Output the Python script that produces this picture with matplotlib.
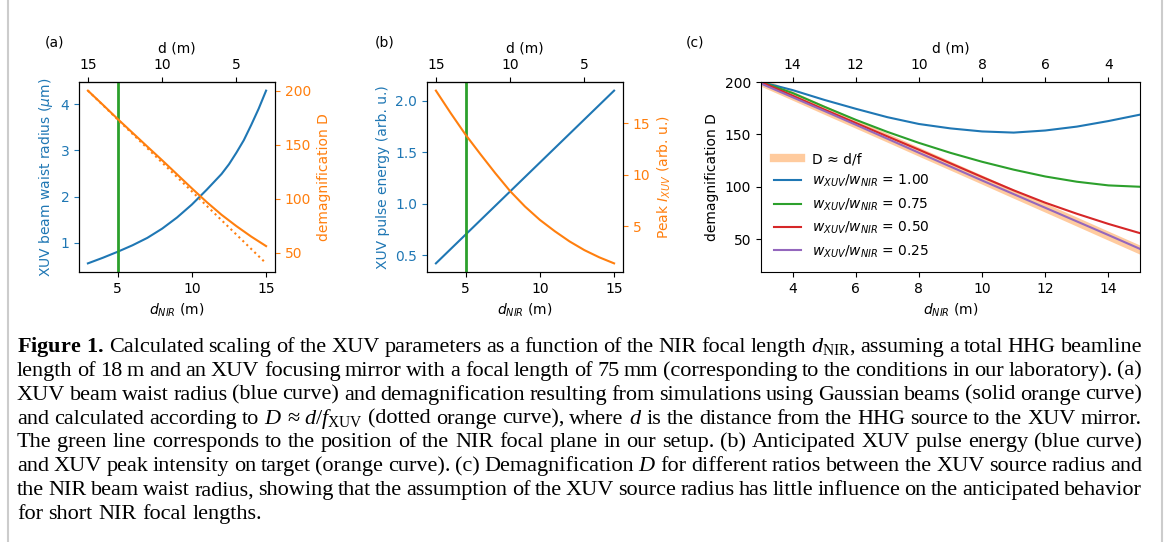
import matplotlib
matplotlib.use("Agg")
import matplotlib.pyplot as plt
from matplotlib.lines import Line2D

# NIR focal length grid (m) and total beamline length (m)
d_nir = [3, 4, 5, 6, 7, 8, 9, 10, 11, 12, 13, 14, 15]
beamline = 18
nir_focus = 5

# (a) XUV beam waist radius (um) and demagnification
waist_x = [3, 4, 5, 6, 7, 8, 9, 10, 11, 12, 12.5, 13, 13.5, 14, 14.5, 15]
waist = [0.56, 0.68, 0.81, 0.95, 1.11, 1.31, 1.55, 1.83, 2.15, 2.49, 2.70, 2.95, 3.22, 3.55, 3.90, 4.29]
D_approx = [200, 186.7, 173.3, 160, 146.7, 133.3, 120, 106.7, 93.3, 80, 66.7, 53.3, 40]

# (b) XUV pulse energy and peak intensity (arb. u.)
energy = [0.42, 0.56, 0.70, 0.84, 0.98, 1.12, 1.26, 1.40, 1.54, 1.68, 1.82, 1.96, 2.10]
peak = [18.2, 16.0, 13.9, 12.0, 10.15, 8.4, 6.9, 5.6, 4.5, 3.5, 2.65, 1.95, 1.36]

# (c) demagnification for different w_XUV / w_NIR
D_w100 = [200, 192.3, 183, 174.5, 166.5, 160, 155.8, 152.9, 151.8, 153.8, 157.5, 162.8, 168.9]
D_w075 = [200, 189.5, 176.5, 164, 152.5, 142, 132.5, 124, 116.5, 110, 105, 101.5, 100.2]
D_w050 = [200, 187, 173.8, 161, 148.2, 135.5, 122.5, 109.5, 96.8, 85, 74.5, 64.8, 56]
D_w025 = [198.5, 185.5, 172.5, 159.3, 146, 132.6, 119.4, 106.2, 93.2, 80.2, 67.2, 54.2, 41]
ratios = ["1.00", "0.75", "0.50", "0.25"]

caption = [
    r"$\mathbf{Figure}$ $\mathbf{1.}$ Calculated scaling of the XUV parameters as a function of the NIR focal length $d_{\mathrm{NIR}}$, assuming a total HHG beamline",
    "length of 18 m and an XUV focusing mirror with a focal length of 75 mm (corresponding to the conditions in our laboratory). (a)",
    "XUV beam waist radius (blue curve) and demagnification resulting from simulations using Gaussian beams (solid orange curve)",
    r"and calculated according to $D$ ≈ $d/f_{\mathrm{XUV}}$ (dotted orange curve), where $d$ is the distance from the HHG source to the XUV mirror.",
    "The green line corresponds to the position of the NIR focal plane in our setup. (b) Anticipated XUV pulse energy (blue curve)",
    r"and XUV peak intensity on target (orange curve). (c) Demagnification $D$ for different ratios between the XUV source radius and",
    "the NIR beam waist radius, showing that the assumption of the XUV source radius has little influence on the anticipated behavior",
    "for short NIR focal lengths.",
]

plt.rcParams['font.size'] = 10
plt.rcParams['mathtext.rm'] = 'Liberation Serif'
plt.rcParams['mathtext.it'] = 'Liberation Serif:italic'
plt.rcParams['mathtext.bf'] = 'Liberation Serif:bold'

blue, orange, green, red, purple = '#1f77b4', '#ff7f0e', '#2ca02c', '#d62728', '#9467bd'

W, H = 1166, 542
fig = plt.figure(figsize=(W / 100, H / 100), dpi=100)

def box(x0, x1):
    return [x0 / W, 1 - 272 / H, (x1 - x0) / W, 190 / H]

to_d = (lambda x: beamline - x, lambda x: beamline - x)

# ---- panel (a)
ax = fig.add_axes(box(79, 275))
ax.plot(waist_x, waist, color=blue)
ax.axvline(nir_focus, color=green, lw=2)
ax.set_ylabel(r"XUV beam waist radius ($\mu$m)", color=blue)
ax.set_xlabel(r"$d_{NIR}$ (m)")
ax.tick_params(axis='y', colors=blue)
ax.set_xticks([5, 10, 15])
ax2 = ax.twinx()
ax2.plot(d_nir, D_w050, color=orange)
ax2.plot(d_nir, D_approx, color=orange, ls=':')
ax2.set_ylabel("demagnification D", color=orange)
ax2.tick_params(axis='y', colors=orange)
ax2.set_yticks([50, 100, 150, 200])
top = ax.secondary_xaxis('top', functions=to_d)
top.set_xticks([15, 10, 5])
top.set_xlabel("d (m)")

# ---- panel (b)
bx = fig.add_axes(box(427, 623))
bx.plot(d_nir, energy, color=blue)
bx.axvline(nir_focus, color=green, lw=2)
bx.set_ylabel("XUV pulse energy (arb. u.)", color=blue)
bx.set_xlabel(r"$d_{NIR}$ (m)")
bx.tick_params(axis='y', colors=blue)
bx.set_xticks([5, 10, 15])
bx.set_yticks([0.5, 1.0, 1.5, 2.0])
bx2 = bx.twinx()
bx2.plot(d_nir, peak, color=orange)
bx2.set_ylabel(r"Peak $I_{XUV}$ (arb. u.)", color=orange)
bx2.tick_params(axis='y', colors=orange)
bx2.set_yticks([5, 10, 15])
top = bx.secondary_xaxis('top', functions=to_d)
top.set_xticks([15, 10, 5])
top.set_xlabel("d (m)")

# ---- panel (c)
cx = fig.add_axes(box(761, 1140))
cx.plot(d_nir, D_approx, color=orange, alpha=0.4, lw=6, label="D ≈ d/f")
for vals, col, r in zip([D_w100, D_w075, D_w050, D_w025], [blue, green, red, purple], ratios):
    cx.plot(d_nir, vals, color=col, label=r"$w_{XUV}/w_{NIR}$ = " + r)
cx.set_xlim(3, 15)
cx.set_ylim(19, 200)
cx.set_xticks([4, 6, 8, 10, 12, 14])
cx.set_yticks([50, 100, 150, 200])
cx.set_ylabel("demagnification D")
cx.set_xlabel(r"$d_{NIR}$ (m)")
cx.legend(loc='lower left', frameon=False)
top = cx.secondary_xaxis('top', functions=to_d)
top.set_xticks([14, 12, 10, 8, 6, 4])
top.set_xlabel("d (m)")

for x, s in [(45, "(a)"), (375, "(b)"), (686, "(c)")]:
    fig.text(x / W, 1 - 43 / H, s, ha='left', va='center')

# ---- caption, justified word by word
cap_kw = dict(family='Liberation Serif', math_fontfamily='custom', ha='left', va='baseline')
left, right = 17, 1142
fs0 = 13
rend = fig.canvas.get_renderer()

def width(s, fs):
    t = fig.text(0, 0, s, fontsize=fs, **cap_kw)
    w = t.get_window_extent(rend).width
    t.remove()
    return w

space0 = width("x x", fs0) - width("xx", fs0)
tight = []
for line in caption[:-1]:
    words = line.split(" ")
    tight.append(sum(width(w, fs0) for w in words) + 0.8 * space0 * (len(words) - 1))
fs = fs0 * (right - left) / max(tight)
space = space0 * fs / fs0

for i, line in enumerate(caption):
    words = line.split(" ")
    ws = [width(w, fs) for w in words]
    last = i == len(caption) - 1
    gap = space if last else (right - left - sum(ws)) / (len(words) - 1)
    x = left
    y = 1 - (352 + 23.85 * i) / H
    for w, wd in zip(words, ws):
        fig.text(x / W, y, w, fontsize=fs, **cap_kw)
        x += wd + gap

# page frame
for x in (8, 1162):
    fig.add_artist(Line2D([x / W, x / W], [0, 1], color='#cccccc', lw=1.5,
                          transform=fig.transFigure))

fig.savefig("out.png", dpi=100)
